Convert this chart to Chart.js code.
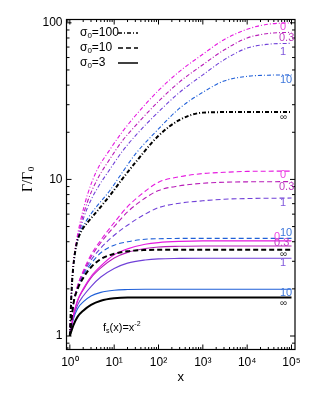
<!DOCTYPE html>
<html>
<head>
<meta charset="utf-8">
<script src="https://cdn.jsdelivr.net/npm/chart.js@4/dist/chart.umd.min.js"></script>
<style>
  body { margin: 0; background: #fff; }
  #wrap { width: 315px; height: 393px; position: relative; }
</style>
</head>
<body>
<div id="wrap"><canvas id="c"></canvas></div>
<script>
// x samples (sigma0 = 100 uses a finer start because it rises so fast)
const xFast = [1, 1.1, 1.2, 1.4, 1.7, 2.5, 4, 8, 15, 30, 100, 300, 1000, 3000, 1e4, 3e4, 1e5];
const xSlow = [1, 1.2, 1.5, 2, 3, 5, 10, 20, 50, 100, 300, 1000, 3000, 1e4, 1e5];

// sigma0 = 100 (dash-dot)
const s100_0   = [1, 2.0, 2.9, 4.0, 5.3, 8.0, 11.3, 15.5, 20, 25.5, 37, 49, 63, 78, 91, 98, 100];
const s100_03  = [1, 2.0, 2.9, 3.9, 5.0, 7.2, 9.8, 13.5, 17.5, 22, 31.5, 42, 54, 67, 80, 85.5, 87];
const s100_1   = [1, 2.0, 2.85, 3.85, 4.8, 6.6, 8.6, 11.6, 15, 19, 27, 36, 46.5, 58, 69, 73, 74];
const s100_10  = [1, 2.0, 2.8, 3.8, 4.6, 5.6, 6.7, 8.5, 11, 14.5, 21, 28.5, 36, 42.5, 45.5, 46.3, 46.5];
const s100_inf = [1, 2.0, 2.8, 3.8, 4.5, 5.3, 6.2, 7.9, 10, 12.8, 19, 24, 26.7, 26.9, 26.9, 26.9, 26.9];

// sigma0 = 10 (dashed)
const s10_0   = [1, 1.6, 2.1, 2.6, 3.3, 4.1, 5.3, 6.7, 8.4, 9.6, 10.4, 10.9, 11.1, 11.25, 11.3];
const s10_03  = [1, 1.6, 2.1, 2.55, 3.2, 3.95, 5.0, 6.2, 7.6, 8.5, 9.1, 9.45, 9.6, 9.65, 9.68];
const s10_1   = [1, 1.6, 2.05, 2.5, 3.05, 3.65, 4.4, 5.1, 6.0, 6.6, 7.05, 7.3, 7.47, 7.55, 7.6];
const s10_10  = [1, 1.6, 2.05, 2.45, 2.9, 3.4, 3.8, 4.0, 4.15, 4.18, 4.2, 4.2, 4.2, 4.2, 4.2];
const s10_inf = [1, 1.6, 2.0, 2.35, 2.75, 3.1, 3.35, 3.48, 3.54, 3.55, 3.55, 3.55, 3.55, 3.55, 3.55];

// sigma0 = 3 (solid)
const s3_0   = [1, 1.35, 1.7, 2.0, 2.4, 2.8, 3.3, 3.6, 3.85, 3.95, 4.02, 4.05, 4.05, 4.05, 4.05];
const s3_03  = [1, 1.35, 1.68, 1.97, 2.35, 2.72, 3.15, 3.42, 3.62, 3.7, 3.74, 3.76, 3.76, 3.76, 3.76];
const s3_1   = [1, 1.32, 1.58, 1.8, 2.07, 2.38, 2.7, 2.92, 3.06, 3.11, 3.13, 3.14, 3.14, 3.14, 3.14];
const s3_10  = [1, 1.28, 1.5, 1.65, 1.8, 1.9, 1.96, 1.98, 1.99, 1.99, 1.99, 1.99, 1.99, 1.99, 1.99];
const s3_inf = [1, 1.17, 1.33, 1.45, 1.58, 1.68, 1.74, 1.76, 1.76, 1.76, 1.76, 1.76, 1.76, 1.76, 1.76];

const curveLabels = ['0', '0.3', '1', '10', '\u221e'];
const sigmaLabels = ['100', '10', '3'];
const xTickValues = [1, 10, 100, 1e3, 1e4, 1e5];
const yTickValues = [1, 10, 100];

const colors = ['#e619e0', '#b81cb8', '#7040d8', '#1f5fd8', '#000000'];
const labelColors = ['#ee44e4', '#c040c4', '#8058dc', '#3f78dc', '#333333'];
const dashDot = [4, 2, 1, 2];
const dashed = [5, 3];

const zip = (xs, ys) => xs.map((x, i) => ({ x, y: ys[i] }));

// label offsets (px) relative to the curve end, per group
const labelPos = {
  '100': [[0, 4], [-1, 5.5], [0, 8.5], [0, 5.5], [0, 5]],
  '10':  [[0, 4], [-1, 5], [0, 4.5], [0, -5], [0, 4]],
  '3':   [[-6, -4], [-6, -3], [0, 5], [0, 3.5], [0, 5.5]],
};

const groups = [
  { sigma: '100', xs: xFast, series: [s100_0, s100_03, s100_1, s100_10, s100_inf], dash: dashDot },
  { sigma: '10', xs: xSlow, series: [s10_0, s10_03, s10_1, s10_10, s10_inf], dash: dashed },
  { sigma: '3', xs: xSlow, series: [s3_0, s3_03, s3_1, s3_10, s3_inf], dash: [] },
];

const datasets = [];
groups.forEach(g => {
  g.series.forEach((ys, i) => {
    const black = i === 4;
    datasets.push({
      label: 'sigma' + g.sigma + ' ' + curveLabels[i],
      data: zip(g.xs, ys),
      borderColor: colors[i],
      borderWidth: black ? 2 : 1.1,
      borderDash: g.dash,
      pointRadius: 0,
      cubicInterpolationMode: 'monotone',
      fill: false,
      order: black ? 0 : 1,
      curveText: curveLabels[i],
      sigma: g.sigma,
      idx: i,
    });
  });
});

const sup = { '0': '\u2070', '1': '\u00b9', '2': '\u00b2', '3': '\u00b3', '4': '\u2074', '5': '\u2075' };

const overlay = {
  id: 'overlay',
  afterDraw(chart) {
    const { ctx, chartArea: a, scales: { x, y } } = chart;
    ctx.save();

    // frame
    ctx.strokeStyle = '#000';
    ctx.lineWidth = 1.2;
    ctx.setLineDash([]);
    ctx.strokeRect(a.left, a.top, a.right - a.left, a.bottom - a.top);

    // inward ticks on all four sides
    ctx.lineWidth = 1;
    ctx.beginPath();
    for (let d = -1; d <= 5; d++) {
      for (let m = 1; m <= 9; m++) {
        const v = m * Math.pow(10, d);
        if (v < x.min || v > x.max) continue;
        const px = x.getPixelForValue(v);
        const len = m === 1 ? 5 : 2.5;
        ctx.moveTo(px, a.bottom); ctx.lineTo(px, a.bottom - len);
        ctx.moveTo(px, a.top); ctx.lineTo(px, a.top + len);
      }
    }
    for (let d = -1; d <= 2; d++) {
      for (let m = 1; m <= 9; m++) {
        const v = m * Math.pow(10, d);
        if (v < y.min || v > y.max) continue;
        const py = y.getPixelForValue(v);
        const len = m === 1 ? 5 : 3;
        ctx.moveTo(a.left, py); ctx.lineTo(a.left + len, py);
        ctx.moveTo(a.right, py); ctx.lineTo(a.right - len, py);
      }
    }
    ctx.stroke();

    // curve labels at the right end
    ctx.textAlign = 'left';
    ctx.textBaseline = 'middle';
    const lx = x.getPixelForValue(5.5e4);
    chart.data.datasets.forEach(ds => {
      const last = ds.data[ds.data.length - 1];
      const off = labelPos[ds.sigma][ds.idx];
      const isInf = ds.idx === 4;
      ctx.font = (isInf ? '10px' : '11px') + ' "Liberation Sans", Arial, sans-serif';
      ctx.fillStyle = labelColors[ds.idx];
      ctx.fillText(ds.curveText, lx + off[0], y.getPixelForValue(last.y) + off[1]);
    });

    // legend
    const legendDash = [dashDot, dashed, []];
    sigmaLabels.forEach((s, i) => {
      const ty = a.top + 13.5 + i * 15;
      ctx.fillStyle = '#000';
      ctx.font = '12px "Liberation Sans", Arial, sans-serif';
      ctx.fillText('\u03c3', 80, ty);
      let w = ctx.measureText('\u03c3').width;
      ctx.font = '8px "Liberation Sans", Arial, sans-serif';
      ctx.fillText('0', 80 + w, ty + 3);
      const w2 = ctx.measureText('0').width;
      ctx.font = '12px "Liberation Sans", Arial, sans-serif';
      ctx.fillText('=' + s, 80 + w + w2, ty);
      ctx.beginPath();
      ctx.setLineDash(legendDash[i]);
      ctx.lineWidth = 1.5;
      ctx.moveTo(118, ty);
      ctx.lineTo(138, ty);
      ctx.stroke();
    });
    ctx.setLineDash([]);

    // f_s(x)=x^-2 annotation
    let tx = 103, ty = 328;
    ctx.font = '11px "Liberation Sans", Arial, sans-serif';
    ctx.fillText('f', tx, ty); tx += ctx.measureText('f').width;
    ctx.font = '7px "Liberation Sans", Arial, sans-serif';
    ctx.fillText('s', tx, ty + 3); tx += ctx.measureText('s').width;
    ctx.font = '11px "Liberation Sans", Arial, sans-serif';
    ctx.fillText('(x)=x', tx, ty); tx += ctx.measureText('(x)=x').width;
    ctx.font = '7px "Liberation Sans", Arial, sans-serif';
    ctx.fillText('-2', tx, ty - 4);

    // axis titles
    ctx.font = '13px "Liberation Sans", Arial, sans-serif';
    ctx.textAlign = 'center';
    ctx.fillText('x', (a.left + a.right) / 2, 377);

    ctx.translate(28, 178);
    ctx.rotate(-Math.PI / 2);
    ctx.font = '14px "Liberation Serif", "Times New Roman", serif';
    ctx.textAlign = 'center';
    const t = '\u0393/\u0393';
    const tw = ctx.measureText(t).width;
    ctx.fillText(t, -4, 0);
    ctx.font = '9px "Liberation Serif", serif';
    ctx.fillText('0', -4 + tw / 2 + 3, 4);
    ctx.restore();
  }
};

new Chart(document.getElementById('c'), {
  type: 'line',
  data: { datasets },
  options: {
    responsive: true,
    maintainAspectRatio: false,
    animation: false,
    layout: { padding: { top: 19.5, right: 20, left: 0, bottom: 0 } },
    plugins: { legend: { display: false }, tooltip: { enabled: false } },
    scales: {
      x: {
        type: 'logarithmic',
        min: 0.84,
        max: 1.2e5,
        grid: { display: false, drawTicks: false },
        border: { display: false },
        afterBuildTicks: s => { s.ticks = xTickValues.map(v => ({ value: v })); },
        afterFit: s => { s.height = 43.5; },
        ticks: {
          color: '#000',
          padding: 6,
          maxRotation: 0,
          autoSkip: false,
          font: { family: '"Liberation Sans", Arial, sans-serif', size: 12 },
          callback: v => '10' + sup[String(Math.round(Math.log10(v)))],
        },
      },
      y: {
        type: 'logarithmic',
        min: 0.82,
        max: 105,
        grid: { display: false, drawTicks: false },
        border: { display: false },
        afterBuildTicks: s => { s.ticks = yTickValues.map(v => ({ value: v })); },
        afterFit: s => { s.width = 66.5; },
        ticks: {
          color: '#000',
          padding: 4,
          autoSkip: false,
          font: { family: '"Liberation Sans", Arial, sans-serif', size: 12 },
          callback: v => String(v),
        },
      },
    },
  },
  plugins: [overlay],
});
</script>
</body>
</html>
